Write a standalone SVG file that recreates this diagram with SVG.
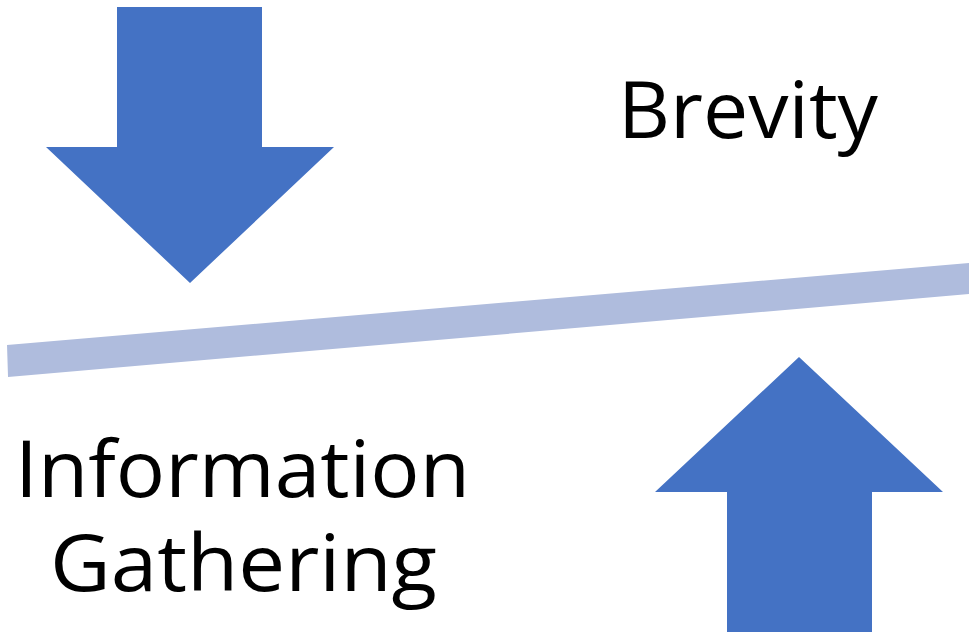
<svg xmlns="http://www.w3.org/2000/svg" width="969" height="632" viewBox="0 0 969 632">
  <style>
    .arrow { fill: #4472C4; }
    .beam { fill: #AFBCDD; }
    .label { font-family: "Open Sans", "Noto Sans", "Liberation Sans", sans-serif; font-size: 78px; fill: #000000; }
  </style>
  <rect width="969" height="632" fill="#FFFFFF"/>
  <!-- balance beam -->
  <g id="beam">
    <polygon class="beam" points="7,345 969,263 969,294 8,377"/>
  </g>
  <!-- downward push -->
  <g id="arrow-down">
    <polygon class="arrow" points="117,7 262,7 262,147 334,147 190,283 46,147 117,147"/>
  </g>
  <!-- upward push -->
  <g id="arrow-up">
    <polygon class="arrow" points="799,357 943,492 872,492 872,632 727,632 727,492 655,492"/>
  </g>
  <g id="label-brevity">
    <text class="label" x="618" y="138" textLength="260" lengthAdjust="spacingAndGlyphs">Brevity</text>
  </g>
  <g id="label-information-gathering">
    <text class="label"><tspan x="15" y="497" textLength="455" lengthAdjust="spacingAndGlyphs">Information</tspan><tspan x="50" y="591" textLength="387" lengthAdjust="spacingAndGlyphs">Gathering</tspan></text>
  </g>
</svg>
